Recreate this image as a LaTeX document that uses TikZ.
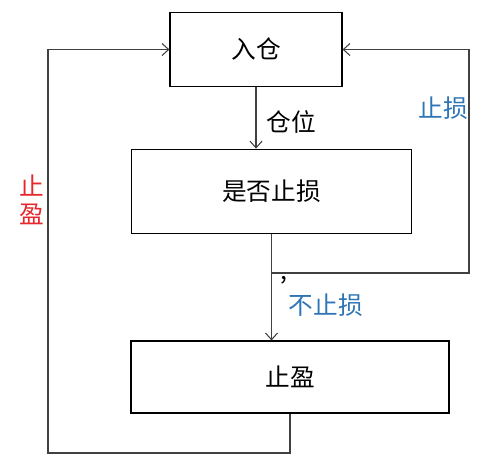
\documentclass[tikz,border=0pt]{standalone}
\usepackage{fontspec}
\setmainfont{Noto Sans CJK SC}
\usetikzlibrary{arrows.meta}

\definecolor{lossblue}{RGB}{46,117,182}
\definecolor{gainred}{RGB}{230,40,45}

\tikzset{
  stage/.style={draw, line width=0.8pt, inner sep=0pt, font=\fontsize{18.5}{21}\selectfont},
  flow/.style={draw=black!75, line width=0.8pt, -{Straight Barb[length=5pt,width=9pt]}},
  note/.style={font=\fontsize{18.5}{21}\selectfont}
}

\begin{document}
\begin{tikzpicture}[x=0.75pt,y=-0.75pt]

% Frame
\useasboundingbox (0,0) rectangle (486,461);

% Stages
\node[stage, minimum width=129pt, minimum height=56pt] (entry) at (256,49.5) {入仓};
\node[stage, minimum width=210.5pt, minimum height=63.5pt] (check) at (271.5,191.5) {是否止损};
\node[stage, minimum width=238.5pt, minimum height=54pt] (profit) at (290,377) {止盈};

% Corners of the two loops
\coordinate (lowleft) at (48,453);
\coordinate (lowright) at (469,273);

% Entry to check
\draw[flow] (entry.south) -- (entry.south |- check.north);
\node[note, anchor=west] (pos) at (262,122) {仓位};

% Check to take-profit
\draw[flow] (check.south) -- (check.south |- profit.north);
\node[note, anchor=west, text=lossblue] (hold) at (284,305) {不止损};
\node[note] (comma) at (284,280) {,};

% Stop-loss loop
\draw[flow] (check.south) |- (lowright) |- (entry.east);
\node[note, text=lossblue] (loss) at (443,108) {止损};

% Take-profit loop
\draw[flow] (profit.south) |- (lowleft) |- (entry.west);
\node[note, text=gainred, align=center] (gain) at (32,200) {止\\盈};

\end{tikzpicture}
\end{document}
